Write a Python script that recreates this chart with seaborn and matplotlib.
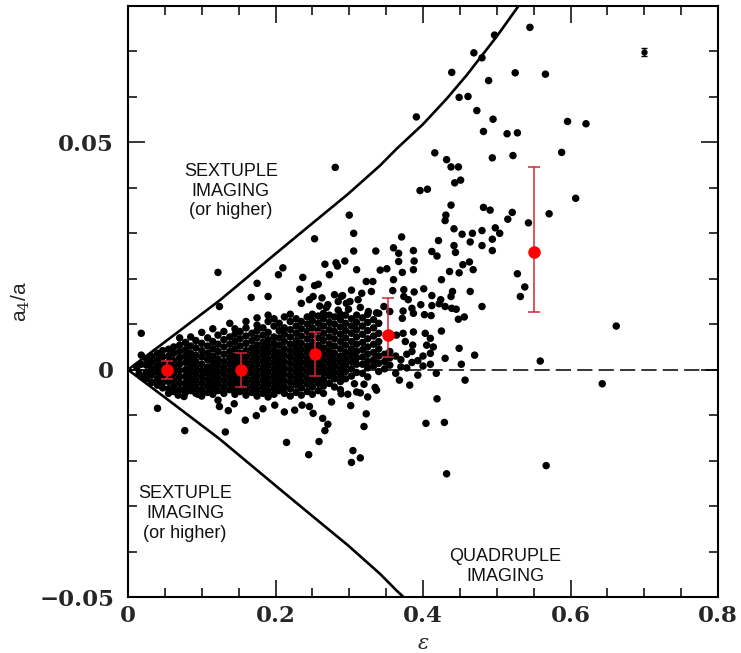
import numpy as np
import pandas as pd
import matplotlib
matplotlib.use("Agg")
import matplotlib.pyplot as plt
import seaborn as sns
from matplotlib.ticker import MultipleLocator, FuncFormatter

# ---------------------------------------------------------------------------
# Data: ellipticity eps and isophote shape a4/a of the lens galaxies
# ---------------------------------------------------------------------------

# Densely populated core, listed by eps column; a4/a values in units of 1e-3
core_eps = [0.012, 0.015, 0.018, 0.020, 0.025, 0.032, 0.040, 0.047, 0.055, 0.062,
            0.070, 0.078, 0.085, 0.092, 0.100, 0.108, 0.115, 0.122, 0.130, 0.138,
            0.145, 0.152, 0.160, 0.168, 0.175, 0.183, 0.190, 0.198, 0.205, 0.212,
            0.220, 0.228, 0.235, 0.243, 0.250, 0.258, 0.265, 0.273, 0.280, 0.288,
            0.295, 0.303, 0.310, 0.318, 0.325, 0.333, 0.340, 0.348, 0.355, 0.363,
            0.370, 0.378, 0.385, 0.393, 0.400, 0.410, 0.418, 0.430, 0.452, 0.470]
core_a4_milli = [
    [0.5], [-0.8], [1.2], [-1.5],
    [2.4, 1.0, -0.6, -2.0],
    [3.0, 1.6, 0.2, -1.2, -2.8],
    [3.6, 2.2, 0.8, -0.6, -2.0, -3.4],
    [4.2, 2.8, 1.4, 0.0, -1.4, -2.8, -4.0],
    [4.5, 3.0, 1.6, 0.2, -1.2, -2.6, -4.2, -5.2],
    [5.0, 3.6, 2.0, 0.6, -0.8, -2.2, -3.6, -4.8],
    [5.4, 4.0, 2.6, 1.2, -0.2, -1.6, -3.0, -4.4, 7.0],
    [6.0, 4.4, 3.0, 1.6, 0.0, -1.4, -2.8, -4.0, -5.0],
    [5.2, 3.6, 2.2, 0.8, -0.6, -2.0, -3.4, -4.6, 7.2],
    [6.4, 4.8, 3.2, 1.8, 0.4, -1.0, -2.4, -3.8, -5.2],
    [5.8, 4.2, 2.8, 1.2, -0.2, -1.6, -3.0, -4.4, -5.8, 8.2],
    [7.0, 5.2, 3.6, 2.2, 0.6, -0.8, -2.2, -3.6, -5.0],
    [6.2, 4.6, 3.0, 1.6, 0.2, -1.2, -2.6, -4.0, -5.4, 9.0],
    [7.6, 5.6, 4.0, 2.4, 1.0, -0.4, -1.8, -3.2, -4.6],
    [8.4, 6.6, 5.0, 3.4, 1.8, 0.4, -1.0, -2.4, -3.8, -5.2],
    [7.2, 5.6, 4.0, 2.6, 1.2, -0.2, -1.6, -3.0, -4.4, 10.2],
    [9.0, 7.8, 6.2, 4.6, 3.0, 1.6, 0.2, -1.2, -2.6, -4.0, -5.4],
    [8.4, 6.8, 5.2, 3.6, 2.2, 0.8, -0.6, -2.0, -3.4, -4.8],
    [10.6, 9.2, 7.4, 5.8, 4.2, 2.8, 1.4, 0.0, -1.4, -2.8, -4.2, -5.6],
    [8.0, 6.4, 4.8, 3.4, 2.0, 0.6, -0.8, -2.2, -3.6, -5.0],
    [11.4, 9.8, 8.6, 7.0, 5.4, 4.0, 2.6, 1.2, -0.2, -1.6, -3.0, -4.4, -5.8],
    [9.2, 7.6, 6.0, 4.6, 3.2, 1.8, 0.4, -1.0, -2.4, -3.8, -5.2],
    [12.0, 10.6, 8.2, 6.6, 5.2, 3.8, 2.4, 1.0, -0.4, -1.8, -3.2, -4.6, -6.0],
    [11.2, 9.6, 7.2, 5.8, 4.4, 3.0, 1.6, 0.2, -1.2, -2.6, -4.0, -5.4],
    [10.2, 8.6, 7.0, 5.4, 3.8, 2.4, 1.0, -0.4, -1.8, -3.2, -4.6],
    [11.6, 9.2, 7.8, 6.2, 4.6, 3.2, 1.8, 0.4, -1.0, -2.4, -3.8, -5.2],
    [12.2, 10.6, 8.8, 7.2, 5.6, 4.2, 2.8, 1.4, 0.0, -1.4, -2.8, -4.2, -5.8],
    [11.2, 9.6, 8.0, 6.4, 5.0, 3.6, 2.2, 0.8, -0.6, -2.0, -3.4, -5.0],
    [10.6, 9.0, 7.4, 5.8, 4.4, 3.0, 1.6, 0.2, -1.2, -2.6, -4.0, -5.6],
    [11.6, 10.0, 8.4, 6.8, 5.2, 3.8, 2.4, 1.0, -0.4, -1.8, -3.2, -4.8],
    [12.2, 10.8, 9.2, 7.6, 6.0, 4.6, 3.2, 1.8, 0.4, -1.0, -2.4, -3.8, -5.4],
    [11.8, 10.2, 8.6, 7.0, 5.4, 4.0, 2.6, 1.2, -0.2, -1.6, -3.0, -4.6],
    [12.4, 11.2, 9.6, 8.0, 6.4, 4.8, 3.4, 2.0, 0.6, -0.8, -2.2, -3.6, -5.2],
    [12.0, 10.4, 8.8, 7.2, 5.6, 4.2, 2.8, 1.4, 0.0, -1.4, -3.0],
    [11.6, 10.0, 8.4, 6.8, 5.2, 3.6, 2.2, 0.8, -0.6, -2.0, -3.8],
    [12.2, 11.0, 9.4, 7.8, 6.2, 4.6, 3.0, 1.6, 0.2, -1.2, -2.6, -4.4],
    [12.0, 10.2, 8.6, 7.0, 5.4, 3.8, 2.4, 1.0, -0.4, -2.0],
    [11.2, 9.6, 8.0, 6.2, 4.6, 3.2, 1.8, 0.2, -1.4],
    [12.0, 10.4, 8.8, 7.2, 5.6, 4.0, 2.6, 1.2, -0.6],
    [11.4, 9.6, 7.8, 6.0, 4.4, 2.8, 1.2, -0.8],
    [12.2, 10.4, 8.6, 6.8, 5.0, 3.4, 1.8, 0.4, -1.6],
    [11.0, 9.2, 7.4, 5.6, 3.8, 2.2, 0.8],
    [12.4, 10.2, 8.0, 6.2, 4.6, 3.0, 1.4, -0.4],
    [3.4, 1.8, 0.2],
    [4.0, 2.6, 1.0],
    [3.0, -0.8],
    [2.2, 0.6],
    [3.4, 0.4],
    [4.0, 1.6],
    [2.0, -1.2],
    [3.0, 0.8],
    [3.6, 1.2],
    [-0.8],
    [2.5],
    [1.2],
    [3.2],
]

# Individually resolved lenses outside the core: (eps, a4/a in units of 1e-3)
sparse_points = [
    (0.545, 75.3), (0.497, 73.6), (0.469, 69.7), (0.480, 68.6), (0.439, 65.4),
    (0.525, 65.3), (0.566, 65.0), (0.489, 63.6), (0.449, 59.9), (0.461, 60.1),
    (0.473, 57.0), (0.391, 55.6), (0.495, 55.1), (0.482, 52.4), (0.514, 51.9),
    (0.528, 52.1), (0.596, 54.6), (0.621, 54.1), (0.588, 47.8), (0.416, 47.7),
    (0.494, 46.6), (0.522, 47.1), (0.432, 46.2), (0.438, 44.6), (0.448, 44.6),
    (0.443, 41.1), (0.451, 41.7), (0.396, 39.4), (0.406, 39.7), (0.607, 37.7),
    (0.438, 36.2), (0.482, 35.7), (0.491, 35.1), (0.521, 34.6), (0.515, 33.1),
    (0.431, 34.0), (0.430, 32.8), (0.571, 34.3), (0.543, 32.3), (0.442, 31.0),
    (0.480, 30.6), (0.498, 31.2), (0.504, 30.0), (0.453, 29.8), (0.467, 30.0),
    (0.371, 29.2), (0.421, 28.4), (0.494, 28.7), (0.442, 27.3), (0.480, 27.3),
    (0.464, 28.1), (0.360, 26.8), (0.387, 26.2), (0.412, 26.0), (0.419, 25.0),
    (0.444, 25.8), (0.494, 26.2), (0.367, 25.6), (0.367, 23.8), (0.388, 23.9),
    (0.454, 23.1), (0.463, 23.7), (0.351, 22.2), (0.342, 21.9), (0.372, 21.4),
    (0.387, 22.0), (0.436, 21.6), (0.449, 21.3), (0.468, 22.0), (0.528, 21.1),
    (0.360, 19.8), (0.425, 19.8), (0.538, 18.2), (0.532, 16.1), (0.359, 17.4),
    (0.374, 17.6), (0.388, 17.1), (0.401, 17.8), (0.374, 16.1), (0.380, 15.4),
    (0.440, 17.2), (0.464, 17.2), (0.412, 16.3), (0.424, 15.4), (0.438, 16.1),
    (0.347, 13.9), (0.355, 12.8), (0.373, 12.9), (0.385, 13.5), (0.397, 14.3),
    (0.412, 14.1), (0.422, 14.5), (0.430, 13.9), (0.439, 13.5), (0.445, 13.3),
    (0.480, 13.9), (0.372, 11.3), (0.387, 12.4), (0.402, 12.1), (0.411, 11.9),
    (0.448, 11.1), (0.456, 11.6), (0.662, 9.6), (0.425, 8.5), (0.364, 7.6),
    (0.373, 8.0), (0.387, 8.3), (0.403, 8.0), (0.410, 6.9), (0.376, 6.2),
    (0.386, 5.4), (0.405, 5.4), (0.414, 5.0), (0.449, 4.7),
    (0.643, -3.1), (0.567, -21.1), (0.559, 1.9),
    (0.368, -2.3), (0.382, -3.4), (0.457, -2.3), (0.307, -3.1), (0.320, -3.2),
    (0.335, -3.9), (0.337, -4.5), (0.310, -4.9), (0.315, -5.1), (0.298, -5.4),
    (0.325, -6.0), (0.302, -7.9), (0.419, -6.4), (0.323, -9.7), (0.320, -12.5),
    (0.404, -11.8), (0.429, -11.6), (0.305, -17.8), (0.315, -19.4), (0.303, -20.4),
    (0.432, -22.9),
    (0.040, -8.5), (0.077, -13.4), (0.132, -13.7), (0.215, -16.0), (0.259, -15.8),
    (0.245, -18.7), (0.271, -12.0), (0.267, -13.4), (0.264, -10.7), (0.159, -11.1),
    (0.068, -5.6), (0.076, -5.9), (0.095, -5.4), (0.124, -8.1), (0.136, -9.0),
    (0.144, -7.5), (0.122, -6.7), (0.174, -10.1), (0.183, -8.6), (0.199, -7.8),
    (0.212, -9.3), (0.226, -8.9), (0.236, -7.8), (0.246, -8.1), (0.251, -9.6),
    (0.276, -7.1), (0.289, -5.3),
    (0.281, 44.5), (0.253, 28.8), (0.122, 21.4), (0.210, 22.4), (0.204, 20.9),
    (0.267, 23.2), (0.282, 23.5), (0.284, 22.8), (0.294, 23.9), (0.273, 20.9),
    (0.175, 19.0), (0.237, 20.3), (0.233, 17.7), (0.253, 18.5), (0.258, 18.8),
    (0.167, 15.9), (0.190, 16.1), (0.235, 14.6), (0.246, 15.4), (0.251, 16.1),
    (0.263, 15.8), (0.280, 16.5), (0.289, 16.1), (0.271, 14.3), (0.285, 15.0),
    (0.296, 14.6), (0.124, 13.9),
    (0.306, 30.0), (0.300, 34.0), (0.306, 26.1), (0.336, 26.1), (0.310, 22.0),
    (0.323, 19.4), (0.332, 19.4), (0.303, 17.5), (0.317, 16.8), (0.330, 17.2),
    (0.301, 15.0), (0.312, 15.4), (0.291, 16.3), (0.260, 14.0), (0.269, 13.7),
    (0.285, 13.1), (0.299, 13.3), (0.315, 13.7), (0.326, 12.8), (0.337, 12.5),
    (0.018, 8.0), (0.018, 3.2),
]

# Binned means with their scatter (red)
bin_eps = [0.053, 0.153, 0.253, 0.352, 0.550]
bin_a4 = [0.0000, 0.0000, 0.0034, 0.0077, 0.0258]
bin_err_low = [0.0020, 0.0037, 0.0048, 0.0048, 0.0130]
bin_err_high = [0.0020, 0.0037, 0.0050, 0.0080, 0.0187]

# Typical measurement uncertainty
typical_eps = [0.700]
typical_a4 = [0.0699]
typical_err = [0.0009]

# Boundary between quadruple and sextuple (or higher) imaging, |a4/a| vs eps
boundary_eps = [0.0, 0.050, 0.1247, 0.206, 0.250, 0.298, 0.3417, 0.3643,
                0.400, 0.4321, 0.4593, 0.500, 0.529, 0.545]
boundary_a4 = [0.0, 0.0061, 0.0153, 0.0263, 0.0322, 0.0386, 0.0449, 0.0486,
               0.0540, 0.0596, 0.0648, 0.0733, 0.0799, 0.0835]

# Region annotations: (text, eps, a4/a)
region_labels = [
    ("SEXTUPLE\nIMAGING\n(or higher)", 0.1395, 0.0393),
    ("SEXTUPLE\nIMAGING\n(or higher)", 0.0775, -0.0317),
    ("QUADRUPLE\nIMAGING", 0.512, -0.0432),
]

x_ticks = [0.0, 0.2, 0.4, 0.6, 0.8]
y_ticks = [-0.05, 0.0, 0.05]

# ---------------------------------------------------------------------------
# Assemble tables
# ---------------------------------------------------------------------------
rows = []
for e, col in zip(core_eps, core_a4_milli):
    for v in col:
        rows.append((e, v))
rows.extend(sparse_points)
lenses = pd.DataFrame(rows, columns=["eps", "a4_milli"])
lenses["a4"] = lenses["a4_milli"] / 1000.0

boundary = pd.DataFrame({"eps": boundary_eps, "upper": boundary_a4})
boundary["lower"] = -boundary["upper"]

# ---------------------------------------------------------------------------
# Figure
# ---------------------------------------------------------------------------
sns.set_theme(style="ticks")
plt.rcParams["font.family"] = ["DejaVu Serif", "DejaVu Sans"]
plt.rcParams["mathtext.fontset"] = "dejavuserif"

W, H = 741, 653
fig = plt.figure(figsize=(W / 100, H / 100), dpi=100)
ax = fig.add_axes([128 / W, 1 - 597 / H, 590 / W, 591 / H])

sns.scatterplot(data=lenses, x="eps", y="a4", color="black", s=29,
                edgecolor="none", marker="o", legend=False, ax=ax, zorder=3)

sns.lineplot(data=boundary, x="eps", y="upper", color="black", lw=1.9,
             estimator=None, sort=False, ax=ax, zorder=2)
sns.lineplot(data=boundary, x="eps", y="lower", color="black", lw=1.9,
             estimator=None, sort=False, ax=ax, zorder=2)

ax.axhline(0.0, color="black", lw=1.1, dashes=(10, 4), zorder=1)

ax.errorbar(bin_eps, bin_a4, yerr=[bin_err_low, bin_err_high], fmt="o",
            color="#ff0000", ecolor="#d02838", ms=8, mec="#ff0000",
            elinewidth=1.1, capsize=4, capthick=1.1, zorder=5)

ax.errorbar(typical_eps, typical_a4, yerr=typical_err, fmt="o", color="black",
            ms=3.5, elinewidth=1.0, capsize=2.5, capthick=1.0, zorder=5)

for text, x, y in region_labels:
    ax.text(x, y, text, ha="center", va="center", fontsize=13,
            family=["Liberation Sans", "DejaVu Sans"], linespacing=1.22,
            color="#111111", zorder=6)

ax.set_xlim(0.0, 0.8)
ax.set_ylim(-0.05, 0.08)
ax.xaxis.set_major_locator(plt.FixedLocator(x_ticks))
ax.yaxis.set_major_locator(plt.FixedLocator(y_ticks))
ax.xaxis.set_minor_locator(MultipleLocator(0.05))
ax.yaxis.set_minor_locator(MultipleLocator(0.01))


def tick_fmt(v, _pos):
    s = f"{v:g}"
    return s.replace("-", "\u2212")


ax.xaxis.set_major_formatter(FuncFormatter(tick_fmt))
ax.yaxis.set_major_formatter(FuncFormatter(tick_fmt))

ax.tick_params(which="both", direction="in", top=True, right=True,
               color="black", width=1.1)
ax.tick_params(which="major", length=12, labelsize=16.5)
ax.tick_params(which="minor", length=6.5)
ax.tick_params(axis="x", which="major", pad=6)
ax.tick_params(axis="y", which="major", pad=10)
for lab in ax.get_xticklabels() + ax.get_yticklabels():
    lab.set_fontweight("bold")

for sp in ax.spines.values():
    sp.set_linewidth(1.5)
    sp.set_color("black")

ax.set_xlabel(r"$\epsilon$", fontsize=15)
ax.set_ylabel(r"a$_4$/a", fontsize=15, family=["Liberation Sans", "DejaVu Sans"])
ax.xaxis.set_label_coords(0.5, -0.062)
ax.yaxis.set_label_coords(-0.162, 0.5)

fig.savefig("out.png", dpi=100)
